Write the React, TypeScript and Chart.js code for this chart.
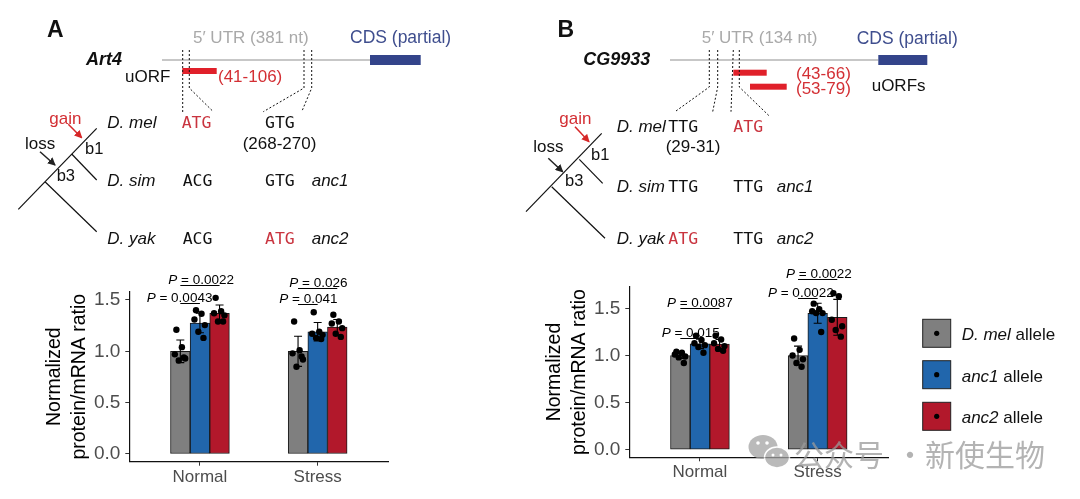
import React, { useEffect, useRef } from 'react';
import { Chart, registerables } from 'chart.js';

Chart.register(...registerables);

// ---------------- data ----------------
const CATEGORIES = ['Normal', 'Stress'];
const ALLELE_LABELS = ['D. mel', 'anc1', 'anc2'];
const Y_TICKS = [0, 0.5, 1.0, 1.5];

// Panel A – Art4  (index 0 = Normal, 1 = Stress)
const A_MEAN_DMEL = [1.0, 1.0];
const A_MEAN_ANC1 = [1.275, 1.19];
const A_MEAN_ANC2 = [1.37, 1.235];
const A_SD_DMEL = [0.11, 0.147];
const A_SD_ANC1 = [0.095, 0.09];
const A_SD_ANC2 = [0.08, 0.075];
const A_REP_DMEL = [[1.21, 1.04, 0.97, 0.93, 0.91, 0.94], [1.29, 1.01, 0.98, 0.92, 0.85, 0.95]];
const A_REP_ANC1 = [[1.40, 1.365, 1.31, 1.255, 1.19, 1.13], [1.38, 1.19, 1.17, 1.16, 1.13, 1.12]];
const A_REP_ANC2 = [[1.52, 1.39, 1.37, 1.35, 1.29, 1.29], [1.355, 1.29, 1.27, 1.225, 1.17, 1.14]];
const A_P_LABELS = ['0.0043', '0.0022', '0.041', '0.026'];
const A_P_CATEGORY = [0, 0, 1, 1];
const A_P_TARGET = [1, 2, 1, 2];
const A_P_LEVEL = [1.467, 1.646, 1.458, 1.613];
const A_P_TEXT_X = [0.548, 0.731, 1.674, 1.759];

// Panel B – CG9933
const B_MEAN_DMEL = [1.0, 1.0];
const B_MEAN_ANC1 = [1.123, 1.448];
const B_MEAN_ANC2 = [1.12, 1.405];
const B_SD_DMEL = [0.03, 0.1];
const B_SD_ANC1 = [0.05, 0.106];
const B_SD_ANC2 = [0.05, 0.19];
const B_REP_DMEL = [[1.04, 1.03, 1.01, 0.99, 0.98, 0.92], [1.18, 1.06, 1.0, 0.96, 0.92, 0.88]];
const B_REP_ANC1 = [[1.21, 1.165, 1.13, 1.11, 1.09, 1.03], [1.55, 1.49, 1.47, 1.45, 1.45, 1.25]];
const B_REP_ANC2 = [[1.21, 1.17, 1.13, 1.10, 1.07, 1.05], [1.66, 1.63, 1.38, 1.31, 1.27, 1.20]];
const B_P_LABELS = ['0.015', '0.0087', '0.0022', '0.0022'];
const B_P_CATEGORY = [0, 0, 1, 1];
const B_P_TARGET = [1, 2, 1, 2];
const B_P_LEVEL = [1.189, 1.501, 1.607, 1.809];
const B_P_TEXT_X = [0.675, 0.72, 1.578, 1.731];

// ---------------- style ----------------
const FONT = '"Liberation Sans", Arial, Helvetica, sans-serif';
const MONO = '"DejaVu Sans Mono", "Liberation Mono", monospace';
const CJK = '"Noto Sans CJK SC", sans-serif';
const COLORS = ['#7f7f7f', '#2166ac', '#b2182b'];
const BAR_STEP = 1 / 6;
const JITTER = [-0.2, 0.08, -0.28, 0.25, -0.08, 0.18];
const CAP = 4;
const CW = 420;
const CH = 259;

type PanelProps = {
  means: number[][];
  sds: number[][];
  reps: number[][][];
  pLabels: string[];
  pCat: number[];
  pTarget: number[];
  pLevel: number[];
  pTextX: number[];
  yMin: number;
  yMax: number;
  padTop: number;
  padBottom: number;
  left: number;
  top: number;
};

function BarPanel(props: PanelProps) {
  const ref = useRef<HTMLCanvasElement>(null);
  useEffect(() => {
    const canvas = ref.current;
    if (!canvas) return;
    const { means, sds, reps, pLabels, pCat, pTarget, pLevel, pTextX, yMin, yMax, padTop, padBottom } = props;
    const barX = (c: number, a: number) => c + 1 + (a - 1) * BAR_STEP;

    const points: { x: number; y: number }[] = [];
    reps.forEach((byCat, a) =>
      byCat.forEach((vals, c) =>
        vals.forEach((v, i) => points.push({ x: barX(c, a) + JITTER[i % JITTER.length] * BAR_STEP, y: v }))
      )
    );

    const barSets = means.map((series, a) => ({
      type: 'bar' as const,
      label: ALLELE_LABELS[a],
      data: series.map((m, c) => ({ x: barX(c, a), y: m })),
      backgroundColor: COLORS[a],
      borderColor: '#1a1a1a',
      borderWidth: 1,
      borderSkipped: false,
      grouped: false,
      categoryPercentage: 1,
      barPercentage: 1,
      order: 1,
    }));

    const plugin = {
      id: 'annot',
      beforeDatasetDraw(chart: any, args: any) {
        if (args.meta.type !== 'scatter') return;
        const { ctx } = chart;
        const x = chart.scales.x;
        const y = chart.scales.y;
        ctx.save();
        ctx.strokeStyle = '#000';
        ctx.lineWidth = 1.1;
        means.forEach((series, a) =>
          series.forEach((m, c) => {
            const cx = x.getPixelForValue(barX(c, a));
            const sd = sds[a][c];
            const yt = y.getPixelForValue(m + sd);
            const yb = y.getPixelForValue(m - sd);
            ctx.beginPath();
            ctx.moveTo(cx, yt);
            ctx.lineTo(cx, yb);
            ctx.moveTo(cx - CAP, yt);
            ctx.lineTo(cx + CAP, yt);
            ctx.moveTo(cx - CAP, yb);
            ctx.lineTo(cx + CAP, yb);
            ctx.stroke();
          })
        );
        ctx.restore();
      },
      afterDatasetsDraw(chart: any) {
        const { ctx } = chart;
        const x = chart.scales.x;
        const y = chart.scales.y;
        ctx.save();
        pLabels.forEach((lab, k) => {
          const x0 = x.getPixelForValue(barX(pCat[k], 0));
          const x1 = x.getPixelForValue(barX(pCat[k], pTarget[k]));
          const yy = Math.round(y.getPixelForValue(pLevel[k])) + 0.5;
          ctx.strokeStyle = '#000';
          ctx.lineWidth = 1;
          ctx.beginPath();
          ctx.moveTo(x0, yy);
          ctx.lineTo(x1, yy);
          ctx.stroke();
          const tx = x.getPixelForValue(pTextX[k]);
          const ty = yy - 1.5;
          ctx.fillStyle = '#000';
          ctx.textAlign = 'left';
          ctx.textBaseline = 'alphabetic';
          ctx.font = `italic 13.5px ${FONT}`;
          ctx.fillText('P', tx, ty);
          const w = ctx.measureText('P').width;
          ctx.font = `13.5px ${FONT}`;
          ctx.fillText(' = ' + lab, tx + w, ty);
        });
        ctx.restore();
      },
    };

    const chart = new Chart(canvas, {
      type: 'bar',
      data: {
        datasets: [
          {
            type: 'scatter',
            label: 'replicates',
            data: points,
            pointRadius: 3.2,
            pointBackgroundColor: '#000',
            pointBorderWidth: 0,
            order: 0,
          } as any,
          ...barSets,
        ],
      },
      options: {
        responsive: false,
        animation: false,
        devicePixelRatio: window.devicePixelRatio || 1,
        layout: { padding: { left: 0, top: padTop, right: CW - 388.3, bottom: padBottom } },
        plugins: { legend: { display: false }, tooltip: { enabled: false } },
        scales: {
          x: {
            type: 'linear',
            min: 0.4,
            max: 2.6,
            offset: false,
            afterBuildTicks: (s: any) => {
              s.ticks = CATEGORIES.map((_, i) => ({ value: i + 1 }));
            },
            afterFit: (s: any) => {
              s.height = 30;
            },
            ticks: {
              autoSkip: false,
              maxRotation: 0,
              padding: 1,
              color: '#4d4d4d',
              font: { family: FONT, size: 17 },
              callback: (v: any) => CATEGORIES[Math.round(Number(v)) - 1] ?? '',
            },
            grid: { display: true, offset: false, drawOnChartArea: false, drawTicks: true, tickLength: 4, color: '#333' },
            border: { display: true, color: '#111', width: 1.2 },
          },
          y: {
            type: 'linear',
            min: yMin,
            max: yMax,
            afterBuildTicks: (s: any) => {
              s.ticks = Y_TICKS.map((v) => ({ value: v }));
            },
            afterFit: (s: any) => {
              s.width = 129.3;
            },
            ticks: {
              padding: 5,
              color: '#4d4d4d',
              font: { family: FONT, size: 19 },
              callback: (v: any) => Number(v).toFixed(1),
            },
            grid: { display: true, drawOnChartArea: false, drawTicks: true, tickLength: 4, color: '#333' },
            border: { display: true, color: '#111', width: 1.2 },
            title: {
              display: true,
              text: ['Normalized', 'protein/mRNA ratio'],
              color: '#000',
              font: { family: FONT, size: 19.5, lineHeight: 1.28 },
              padding: { top: 42, bottom: 0 },
            },
          },
        },
      } as any,
      plugins: [plugin],
    });
    return () => chart.destroy();
  }, []);
  return (
    <canvas
      ref={ref}
      width={CW}
      height={CH}
      style={{ position: 'absolute', left: props.left, top: props.top, width: CW, height: CH }}
    />
  );
}

// ---------------- diagram helpers ----------------
const T = (p: {
  x: number;
  y: number;
  children: React.ReactNode;
  size?: number;
  fill?: string;
  italic?: boolean;
  bold?: boolean;
  mono?: boolean;
}) => (
  <text
    x={p.x}
    y={p.y}
    dominantBaseline="central"
    fontFamily={p.mono ? MONO : FONT}
    fontSize={p.size ?? (p.mono ? 16.5 : 17)}
    fill={p.fill ?? '#111'}
    fontStyle={p.italic ? 'italic' : 'normal'}
    fontWeight={p.bold ? 'bold' : 'normal'}
  >
    {p.children}
  </text>
);

const RED_TXT = '#d32f34';
const RED_CODON = '#c9343f';
const RED_BAR = '#e0202a';
const UTR_GRAY = '#a9a9a9';
const CDS_BLUE = '#3f4e8e';
const CDS_BOX = '#33448a';

function Diagram() {
  const dot = { stroke: '#111', strokeWidth: 1, strokeDasharray: '2 2', fill: 'none' };
  const tree = { stroke: '#111', strokeWidth: 1.2 };
  return (
    <svg
      width={1080}
      height={499}
      style={{ position: 'absolute', left: 0, top: 0, pointerEvents: 'none' }}
    >
      <defs>
        <marker id="ahRed" markerWidth="8" markerHeight="8" refX="7" refY="4" orient="auto" markerUnits="userSpaceOnUse">
          <path d="M0,0 L8,4 L0,8 Z" fill="#d62728" />
        </marker>
        <marker id="ahBlk" markerWidth="8" markerHeight="8" refX="7" refY="4" orient="auto" markerUnits="userSpaceOnUse">
          <path d="M0,0 L8,4 L0,8 Z" fill="#222" />
        </marker>
      </defs>

      {/* ---------- Panel A ---------- */}
      <T x={47} y={29} size={23} bold>A</T>
      <T x={193} y={37} fill={UTR_GRAY}>5′ UTR (381 nt)</T>
      <T x={350} y={37} fill={CDS_BLUE} size={17.5}>CDS (partial)</T>
      <line x1={162} y1={60} x2={370} y2={60} stroke="#b5b5b5" strokeWidth={1.5} />
      <rect x={370} y={55} width={50.7} height={10} fill={CDS_BOX} />
      <T x={86} y={59} size={18} bold italic>Art4</T>
      <T x={125} y={76}>uORF</T>
      <rect x={182.3} y={68} width={34.4} height={6} fill={RED_BAR} />
      <T x={218} y={76} fill={RED_TXT}>(41-106)</T>
      <polyline points="182.7,50 182.7,113" {...dot} />
      <polyline points="189.3,50 189.3,88 213.3,111.7" {...dot} />
      <polyline points="304,50 304,88 263.3,111.7" {...dot} />
      <polyline points="311.7,50 311.7,88 301.7,111.7" {...dot} />

      <T x={107.3} y={122.7} italic>D. mel</T>
      <T x={181.7} y={122.7} mono fill={RED_CODON}>ATG</T>
      <T x={265} y={122.7} mono>GTG</T>
      <T x={242.7} y={143.3}>(268-270)</T>
      <T x={107.3} y={180} italic>D. sim</T>
      <T x={182.7} y={180} mono>ACG</T>
      <T x={265} y={180} mono>GTG</T>
      <T x={311.7} y={180} italic>anc1</T>
      <T x={107.3} y={238.3} italic>D. yak</T>
      <T x={182.7} y={238.3} mono>ACG</T>
      <T x={265} y={238.3} mono fill={RED_CODON}>ATG</T>
      <T x={311.7} y={238.3} italic>anc2</T>

      <T x={49.3} y={118.3} fill={RED_TXT}>gain</T>
      <line x1={68.3} y1={124.3} x2={81.7} y2={137.7} stroke="#d62728" strokeWidth={1.5} markerEnd="url(#ahRed)" />
      <T x={25} y={143.3}>loss</T>
      <line x1={40} y1={151.7} x2={55} y2={165} stroke="#222" strokeWidth={1.5} markerEnd="url(#ahBlk)" />
      <T x={85} y={148.3} size={16.5}>b1</T>
      <T x={56.7} y={175} size={16.5}>b3</T>
      <line x1={18.3} y1={209.3} x2={96.7} y2={128.3} {...tree} />
      <line x1={71.7} y1={154} x2={96.7} y2={180} {...tree} />
      <line x1={45} y1={181.7} x2={96.7} y2={231.7} {...tree} />

      {/* ---------- Panel B ---------- */}
      <T x={557.5} y={29} size={23} bold>B</T>
      <T x={701.7} y={37.7} fill={UTR_GRAY}>5′ UTR (134 nt)</T>
      <T x={856.7} y={37.7} fill={CDS_BLUE} size={17.5}>CDS (partial)</T>
      <line x1={670} y1={60} x2={878.3} y2={60} stroke="#b5b5b5" strokeWidth={1.5} />
      <rect x={878.3} y={55} width={49} height={10} fill={CDS_BOX} />
      <T x={583.3} y={59} size={18} bold italic>CG9933</T>
      <rect x={733.3} y={69.7} width={33.4} height={6} fill={RED_BAR} />
      <rect x={750} y={83.7} width={36.7} height={6} fill={RED_BAR} />
      <T x={796} y={73.5} fill={RED_TXT}>(43-66)</T>
      <T x={796} y={88.8} fill={RED_TXT}>(53-79)</T>
      <T x={871.7} y={85}>uORFs</T>
      <polyline points="709.3,50 709.3,87 675,111.7" {...dot} />
      <polyline points="717.7,50 717.7,87 712.7,111.7" {...dot} />
      <polyline points="733.3,50 731,111.7" {...dot} />
      <polyline points="739.3,50 739.3,87 770,116.7" {...dot} />

      <T x={616.7} y={126} italic>D. mel</T>
      <T x={668.3} y={126} mono>TTG</T>
      <T x={733.3} y={126} mono fill={RED_CODON}>ATG</T>
      <T x={665.7} y={146.7}>(29-31)</T>
      <T x={616.7} y={186.7} italic>D. sim</T>
      <T x={668.3} y={186.7} mono>TTG</T>
      <T x={733.3} y={186.7} mono>TTG</T>
      <T x={776.7} y={186.7} italic>anc1</T>
      <T x={616.7} y={238.3} italic>D. yak</T>
      <T x={668.3} y={238.3} mono fill={RED_CODON}>ATG</T>
      <T x={733.3} y={238.3} mono>TTG</T>
      <T x={776.7} y={238.3} italic>anc2</T>

      <T x={559.3} y={118.3} fill={RED_TXT}>gain</T>
      <line x1={575} y1={126.7} x2={589} y2={141.7} stroke="#d62728" strokeWidth={1.5} markerEnd="url(#ahRed)" />
      <T x={533.3} y={146.7}>loss</T>
      <line x1={548.3} y1={158.3} x2={562.7} y2={171.7} stroke="#222" strokeWidth={1.5} markerEnd="url(#ahBlk)" />
      <T x={591} y={154.3} size={16.5}>b1</T>
      <T x={565} y={180} size={16.5}>b3</T>
      <line x1={526} y1={211.7} x2={601.7} y2={133.3} {...tree} />
      <line x1={579.3} y1={159.3} x2={602.7} y2={183.3} {...tree} />
      <line x1={551.7} y1={186.7} x2={605} y2={238.3} {...tree} />

      {/* ---------- Legend ---------- */}
      {[319.3, 360.7, 402.3].map((ty, i) => (
        <g key={i}>
          <rect x={922.7} y={ty} width={28} height={28} fill={COLORS[i]} stroke="#222" strokeWidth={1} />
          <circle cx={936.7} cy={ty + 14} r={2.6} fill="#000" />
        </g>
      ))}
      <text x={961.7} y={334} dominantBaseline="central" fontFamily={FONT} fontSize={17} fill="#111">
        <tspan fontStyle="italic">{ALLELE_LABELS[0]}</tspan> allele
      </text>
      <text x={961.7} y={376} dominantBaseline="central" fontFamily={FONT} fontSize={17} fill="#111">
        <tspan fontStyle="italic">{ALLELE_LABELS[1]}</tspan> allele
      </text>
      <text x={961.7} y={417.3} dominantBaseline="central" fontFamily={FONT} fontSize={17} fill="#111">
        <tspan fontStyle="italic">{ALLELE_LABELS[2]}</tspan> allele
      </text>

      {/* ---------- Watermark ---------- */}
      <g opacity={0.75}>
        <ellipse cx={763} cy={447} rx={14.5} ry={12} fill="#a3a3a3" />
        <ellipse cx={777} cy={457.5} rx={12.5} ry={10.5} fill="#a3a3a3" stroke="#fff" strokeWidth={1.5} />
        <circle cx={758} cy={443} r={1.8} fill="#fff" />
        <circle cx={767} cy={443} r={1.8} fill="#fff" />
        <circle cx={773} cy={455} r={1.5} fill="#fff" />
        <circle cx={781} cy={455} r={1.5} fill="#fff" />
        <text x={794} y={453} dominantBaseline="central" fontFamily={CJK} fontSize={30} fill="#9a9a9a">公众号</text>
        <text x={910} y={453} dominantBaseline="central" textAnchor="middle" fontFamily={CJK} fontSize={30} fill="#9a9a9a">·</text>
        <text x={925} y={453} dominantBaseline="central" fontFamily={CJK} fontSize={30} fill="#9a9a9a">新使生物</text>
      </g>
    </svg>
  );
}

export default function App() {
  return (
    <div style={{ position: 'fixed', left: 0, top: 0, width: 1080, height: 499, background: '#fff', overflow: 'hidden' }}>
      <BarPanel
        means={[A_MEAN_DMEL, A_MEAN_ANC1, A_MEAN_ANC2]}
        sds={[A_SD_DMEL, A_SD_ANC1, A_SD_ANC2]}
        reps={[A_REP_DMEL, A_REP_ANC1, A_REP_ANC2]}
        pLabels={A_P_LABELS}
        pCat={A_P_CATEGORY}
        pTarget={A_P_TARGET}
        pLevel={A_P_LEVEL}
        pTextX={A_P_TEXT_X}
        yMin={-0.075}
        yMax={1.58}
        padTop={51.7}
        padBottom={CH - 221.7 - 30}
        left={0}
        top={240}
      />
      <BarPanel
        means={[B_MEAN_DMEL, B_MEAN_ANC1, B_MEAN_ANC2]}
        sds={[B_SD_DMEL, B_SD_ANC1, B_SD_ANC2]}
        reps={[B_REP_DMEL, B_REP_ANC1, B_REP_ANC2]}
        pLabels={B_P_LABELS}
        pCat={B_P_CATEGORY}
        pTarget={B_P_TARGET}
        pLevel={B_P_LEVEL}
        pTextX={B_P_TEXT_X}
        yMin={-0.08}
        yMax={1.73}
        padTop={46.7}
        padBottom={CH - 217.3 - 30}
        left={500}
        top={240}
      />
      <Diagram />
    </div>
  );
}
